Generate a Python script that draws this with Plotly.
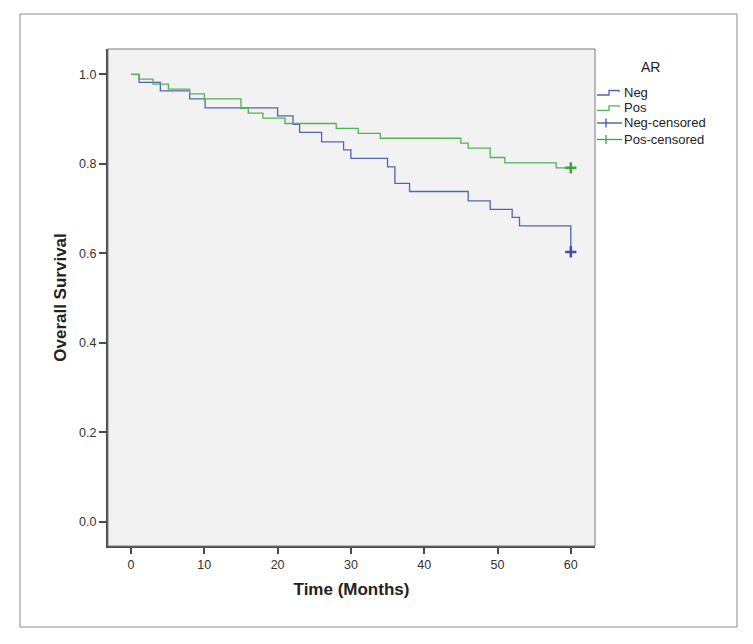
import plotly.graph_objects as go

# ---- data ----
neg_times = [0, 1.1, 4.0, 8.0, 10.1, 20.0, 22.1, 23.0, 26.0, 29.0, 30.0, 35.0, 36.0, 38.0, 46.0, 49.0, 52.0, 53.0, 60.0]
neg_surv = [1.0, 0.982, 0.963, 0.945, 0.925, 0.907, 0.888, 0.870, 0.849, 0.831, 0.812, 0.793, 0.756, 0.738, 0.717, 0.698, 0.680, 0.661, 0.603]
pos_times = [0, 1.1, 3.0, 5.1, 8.0, 10.0, 15.0, 16.0, 18.0, 21.0, 28.0, 31.0, 34.0, 45.0, 46.0, 49.0, 51.0, 58.0, 60.0]
pos_surv = [1.0, 0.989, 0.978, 0.967, 0.956, 0.945, 0.924, 0.913, 0.902, 0.890, 0.879, 0.868, 0.857, 0.846, 0.835, 0.814, 0.802, 0.791, 0.791]
neg_cens_t = [60.0]
neg_cens_s = [0.603]
pos_cens_t = [60.0]
pos_cens_s = [0.791]

x_ticks = [0, 10, 20, 30, 40, 50, 60]
y_ticks = [0.0, 0.2, 0.4, 0.6, 0.8, 1.0]
legend_title = "AR"
legend_labels = ["Neg", "Pos", "Neg-censored", "Pos-censored"]

BLUE = "#5064b8"
GREEN = "#52b452"
BLUE_D = "#3d50a8"
GREEN_D = "#38a838"

OFF = 8  # page body margin
W, H = 753 - OFF, 644 - OFF
L, R, T, B = 100, 158, 41, 98
PW, PH = W - L - R, H - T - B


def pxx(x):
    return (x - OFF - L) / PW


def pxy(y):
    return (H - B - (y - OFF)) / PH


fig = go.Figure()
fig.add_trace(go.Scatter(x=neg_times, y=neg_surv, mode="lines", line=dict(shape="hv", color=BLUE, width=1.3),
                         name=legend_labels[0], showlegend=False))
fig.add_trace(go.Scatter(x=pos_times, y=pos_surv, mode="lines", line=dict(shape="hv", color=GREEN, width=1.3),
                         name=legend_labels[1], showlegend=False))
fig.add_trace(go.Scatter(x=neg_cens_t, y=neg_cens_s, mode="markers",
                         marker=dict(symbol="cross-thin", size=8, line=dict(color=BLUE_D, width=2.5)),
                         name=legend_labels[2], showlegend=False))
fig.add_trace(go.Scatter(x=pos_cens_t, y=pos_cens_s, mode="markers",
                         marker=dict(symbol="cross-thin", size=8, line=dict(color=GREEN_D, width=2.5)),
                         name=legend_labels[3], showlegend=False))

shapes = []
annotations = []
# outer frame
shapes.append(dict(type="rect", xref="paper", yref="paper", x0=pxx(20), x1=pxx(737), y0=pxy(627), y1=pxy(14),
                   line=dict(color="#8a8a8a", width=1), layer="below"))
# plot box thin border (top/right)
shapes.append(dict(type="rect", xref="paper", yref="paper", x0=0, x1=1, y0=0, y1=1,
                   line=dict(color="#7a7a7a", width=1), layer="above"))

# legend
annotations.append(dict(text=legend_title, xref="paper", yref="paper", x=pxx(650), y=pxy(67),
                        showarrow=False, font=dict(size=14, color="#222", family="Liberation Sans, Arial"),
                        xanchor="center", yanchor="middle"))
row_y = [92.5, 107.8, 123.0, 139.5]
cols = [BLUE, GREEN, BLUE_D, GREEN_D]
for i, lab in enumerate(legend_labels):
    yy = row_y[i]
    c = cols[i]
    if i < 2:
        path = "M {a},{b} L {c},{b} L {c},{d} L {e},{d} L {e},{f}".format(
            a=pxx(597), b=pxy(yy + 2.5), c=pxx(609), d=pxy(yy - 2), e=pxx(619), f=pxy(yy - 0.5))
        shapes.append(dict(type="path", xref="paper", yref="paper", path=path,
                           line=dict(color=c, width=1.3)))
    else:
        shapes.append(dict(type="line", xref="paper", yref="paper", x0=pxx(597), x1=pxx(622),
                           y0=pxy(yy), y1=pxy(yy), line=dict(color=c, width=1.3)))
        shapes.append(dict(type="line", xref="paper", yref="paper", x0=pxx(606), x1=pxx(606),
                           y0=pxy(yy - 4.5), y1=pxy(yy + 4.5), line=dict(color=c, width=1.3)))
    annotations.append(dict(text=lab, xref="paper", yref="paper", x=pxx(622), y=pxy(yy),
                            showarrow=False, font=dict(size=13, color="#222", family="Liberation Sans, Arial"),
                            xanchor="left", yanchor="middle"))

fig.update_layout(
    width=W, height=H,
    margin=dict(l=L, r=R, t=T, b=B, pad=0),
    paper_bgcolor="white",
    plot_bgcolor="#f2f2f2",
    shapes=shapes,
    annotations=annotations,
    font=dict(family="Liberation Sans, Arial", color="#333"),
    showlegend=False,
)
fig.update_xaxes(
    range=[-3.14, 63.3], tickvals=x_ticks, ticktext=[str(v) for v in x_ticks],
    showgrid=False, zeroline=False, showline=True, linecolor="#4a4a4a", linewidth=2,
    ticks="outside", ticklen=6, tickwidth=1.5, tickcolor="#4a4a4a",
    tickfont=dict(size=12.5, color="#333"),
    title=dict(text="<b>Time (Months)</b>", font=dict(size=17, color="#222"), standoff=12),
)
fig.update_yaxes(
    range=[-0.0543, 1.0565], tickvals=y_ticks, ticktext=["%.1f" % v for v in y_ticks],
    showgrid=False, zeroline=False, showline=True, linecolor="#4a4a4a", linewidth=2,
    ticks="outside", ticklen=7, tickwidth=1.5, tickcolor="#4a4a4a",
    tickfont=dict(size=12.5, color="#333"),
    title=dict(text="<b>Overall Survival</b>", font=dict(size=17, color="#222"), standoff=8),
)

fig.write_html("out.html")
